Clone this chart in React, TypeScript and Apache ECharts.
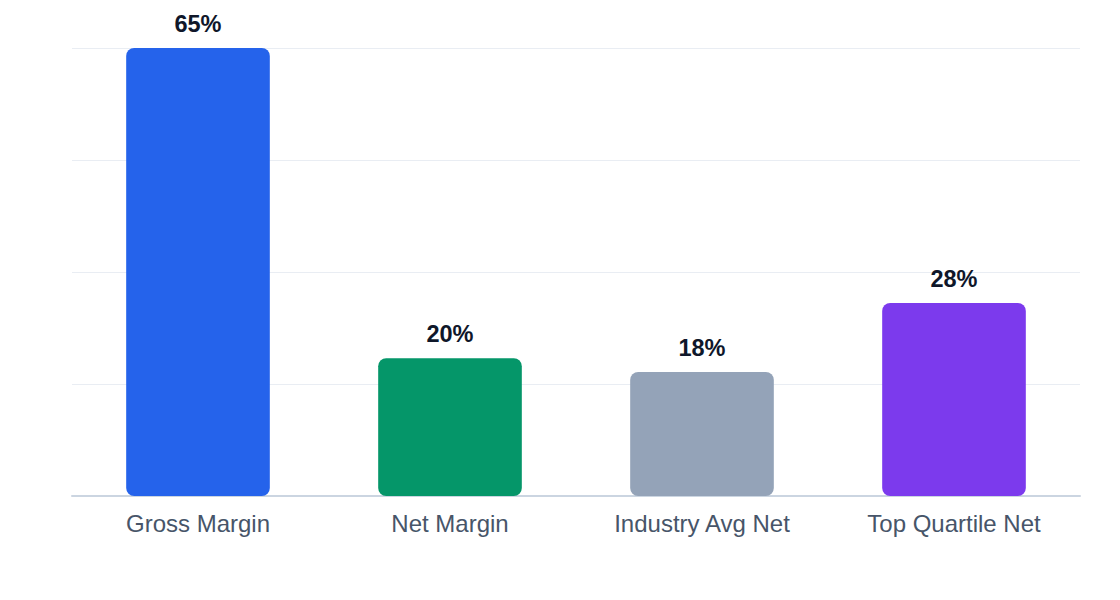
import React, { useEffect, useRef } from "react";
import * as echarts from "echarts";

const categories = ["Gross Margin", "Net Margin", "Industry Avg Net", "Top Quartile Net"];
const values = [65, 20, 18, 28];
const colors = ["#2563eb", "#059669", "#94a3b8", "#7c3aed"];

export default function App() {
  const ref = useRef<HTMLDivElement>(null);
  useEffect(() => {
    if (!ref.current) return;
    const chart = echarts.init(ref.current, undefined, { renderer: "svg" });
    chart.setOption({
      animation: false,
      textStyle: { fontFamily: "Liberation Sans, Arial, Helvetica, sans-serif" },
      grid: { left: 64, right: 32, top: 40, bottom: 96, containLabel: false },
      xAxis: {
        type: "category",
        data: categories,
        axisTick: { show: false },
        axisLine: { lineStyle: { color: "#cbd5e1", width: 2 } },
        axisLabel: { color: "#475569", fontSize: 24, margin: 15 },
      },
      yAxis: {
        type: "value",
        min: 0,
        max: 65,
        interval: 16.25,
        axisLabel: { show: false },
        axisLine: { show: false },
        axisTick: { show: false },
        splitLine: { lineStyle: { color: "#e9edf3", width: 1 } },
      },
      series: [
        {
          type: "bar",
          barWidth: "57%",
          data: values.map((v, i) => ({ value: v, itemStyle: { color: colors[i], borderRadius: 8 } })),
          label: {
            show: true,
            position: "top",
            distance: 12,
            formatter: "{c}%",
            color: "#0f172a",
            fontWeight: "bold",
            fontSize: 23.5,
          },
        },
      ],
    });
    return () => chart.dispose();
  }, []);
  return <div ref={ref} style={{ width: 1104, height: 584 }} />;
}
